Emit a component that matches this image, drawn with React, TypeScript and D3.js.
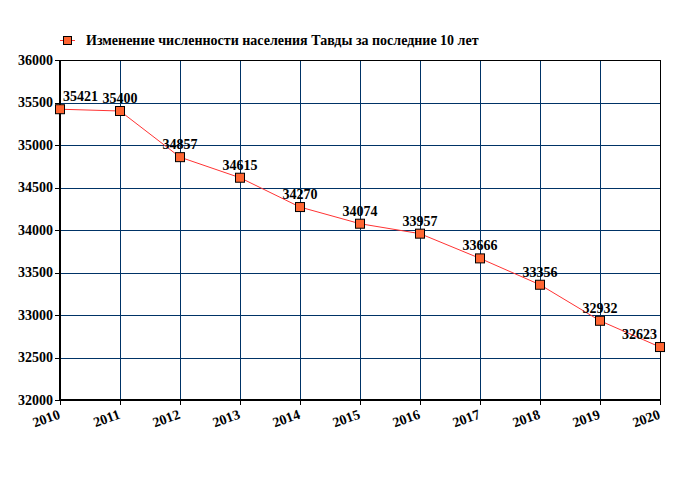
import React from "react";
import * as d3 from "d3";

const years = [2010, 2011, 2012, 2013, 2014, 2015, 2016, 2017, 2018, 2019, 2020];
const population = [35421, 35400, 34857, 34615, 34270, 34074, 33957, 33666, 33356, 32932, 32623];
const yTicks = [32000, 32500, 33000, 33500, 34000, 34500, 35000, 35500, 36000];
const legendLabel = "Изменение численности населения Тавды за последние 10 лет";

const W = 680;
const H = 500;
const M = { left: 60, right: 20, top: 60, bottom: 100 };
const FONT = "Liberation Serif, Times New Roman, DejaVu Serif, serif";
const txt: React.CSSProperties = { fontFamily: FONT, fontWeight: 700, fontSize: "14px" };

export default function App() {
  const x = d3.scaleLinear().domain([2010, 2020]).range([M.left, W - M.right]);
  const y = d3.scaleLinear().domain([32000, 36000]).range([H - M.bottom, M.top]);
  const line = d3
    .line<number>()
    .x((_, i) => x(years[i]))
    .y((d) => y(d));
  const gridColor = "#003366";
  const x0 = x.range()[0], x1 = x.range()[1];
  const y0 = y.range()[0], y1 = y.range()[1];

  return (
    <div style={{ position: "absolute", left: 0, top: 0 }}>
      <svg width={W} height={H} style={{ display: "block", background: "#fff" }}>
        <g shapeRendering="crispEdges">
          {yTicks.map((t) => (
            <line key={"gy" + t} x1={x0} x2={x1} y1={y(t) + 0.5} y2={y(t) + 0.5} stroke={gridColor} strokeWidth={1} />
          ))}
          {years.map((yr) => (
            <line key={"gx" + yr} x1={x(yr) + 0.5} x2={x(yr) + 0.5} y1={y1} y2={y0} stroke={gridColor} strokeWidth={1} />
          ))}
          <line x1={x0} x2={x1} y1={y1 + 0.5} y2={y1 + 0.5} stroke="#000" strokeWidth={1} />
          <line x1={x1 + 0.5} x2={x1 + 0.5} y1={y1} y2={y0} stroke="#000" strokeWidth={1} />
          <line x1={x0} x2={x0} y1={y1} y2={y0 + 1} stroke="#000" strokeWidth={2} />
          <line x1={x0 - 1} x2={x1 + 1} y1={y0} y2={y0} stroke="#000" strokeWidth={2} />
          {yTicks.map((t) => (
            <line key={"tyl" + t} x1={x0 - 5} x2={x0} y1={y(t) + 0.5} y2={y(t) + 0.5} stroke="#000" />
          ))}
          {years.map((yr) => (
            <line key={"txl" + yr} x1={x(yr) + 0.5} x2={x(yr) + 0.5} y1={y0} y2={y0 + 5} stroke="#000" />
          ))}
        </g>
        {yTicks.map((t) => (
          <text key={"ty" + t} x={x0 - 7} y={y(t)} dy="0.35em" textAnchor="end" style={txt} fill="#000">
            {t}
          </text>
        ))}
        {years.map((yr) => (
          <text
            key={"tx" + yr}
            transform={`translate(${x(yr) + 1},${y0 + 18}) rotate(-20)`}
            textAnchor="end"
            style={txt}
            fill="#000"
          >
            {yr}
          </text>
        ))}
        <path d={line(population) || ""} fill="none" stroke="#ff3333" strokeWidth={1} />
        {population.map((v, i) => (
          <rect
            key={"m" + i}
            x={x(years[i]) - 4.5}
            y={y(v) - 4.5}
            width={9}
            height={9}
            fill="#ff6633"
            stroke="#000"
            strokeWidth={1}
          />
        ))}
        {population.map((v, i) => {
          const px = x(years[i]);
          const last = population.length - 1;
          const anchor = i === 0 ? "start" : i === last ? "end" : "middle";
          const lx = i === 0 ? px + 3 : i === last ? px - 3 : px;
          return (
            <text key={"l" + i} x={lx} y={y(v) - 8} textAnchor={anchor} style={txt} fill="#000">
              {v}
            </text>
          );
        })}
        <g>
          <line x1={60} x2={75} y1={40.5} y2={40.5} stroke="#ff3333" strokeWidth={1} />
          <rect x={63.5} y={36.5} width={8} height={8} fill="#ff6633" stroke="#000" />
          <text x={86} y={45} style={txt} fill="#000">
            {legendLabel}
          </text>
        </g>
      </svg>
    </div>
  );
}
